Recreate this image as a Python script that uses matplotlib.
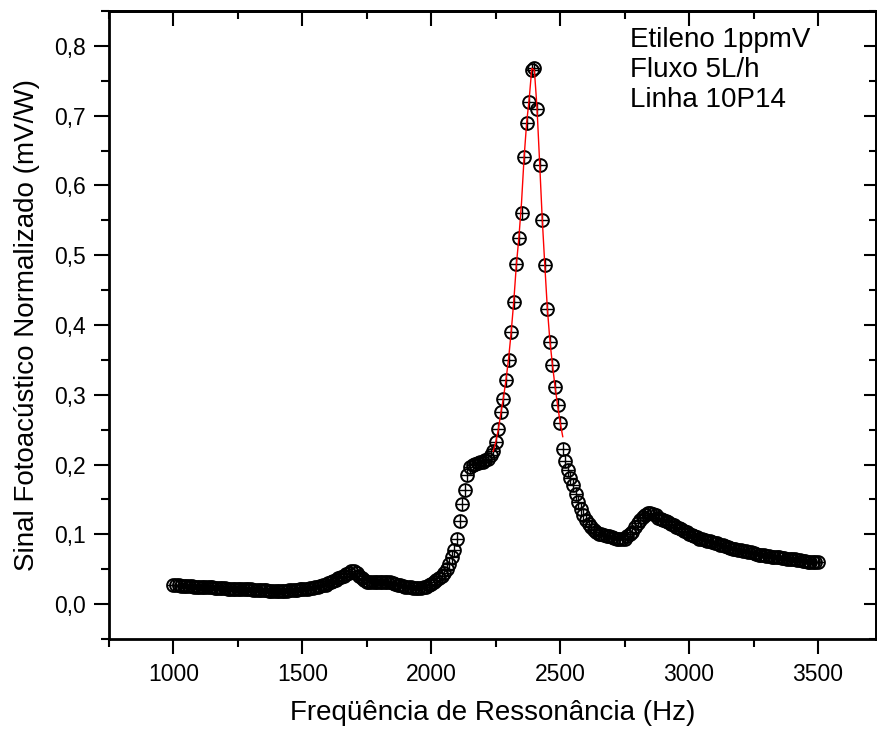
import numpy as np
import matplotlib
matplotlib.use("Agg")
import matplotlib.pyplot as plt
from matplotlib.ticker import MultipleLocator, FuncFormatter

plt.rcParams['font.family'] = ['Liberation Sans', 'DejaVu Sans']

# frequency grid of the measurement (Hz), one point every 10 Hz
freq = np.arange(1000, 3501, 10)

# normalised photoacoustic signal (mV/W)
signal = [
    # 1000 - 1090
    0.027, 0.027, 0.027, 0.026, 0.026, 0.026, 0.026, 0.026, 0.025, 0.025,
    # 1100 - 1190
    0.025, 0.025, 0.024, 0.024, 0.024, 0.024, 0.023, 0.023, 0.023, 0.023,
    # 1200 - 1290
    0.023, 0.022, 0.022, 0.022, 0.022, 0.022, 0.021, 0.021, 0.021, 0.021,
    # 1300 - 1390
    0.021, 0.020, 0.020, 0.020, 0.020, 0.020, 0.020, 0.019, 0.019, 0.019,
    # 1400 - 1490
    0.019, 0.019, 0.019, 0.019, 0.019, 0.020, 0.020, 0.020, 0.020, 0.021,
    # 1500 - 1590
    0.021, 0.022, 0.022, 0.023, 0.023, 0.024, 0.025, 0.026, 0.027, 0.028,
    # 1600 - 1690
    0.030, 0.031, 0.033, 0.035, 0.037, 0.039, 0.041, 0.043, 0.045, 0.047,
    # 1700 - 1790
    0.047, 0.045, 0.041, 0.037, 0.034, 0.032, 0.031, 0.031, 0.031, 0.032,
    # 1800 - 1890
    0.032, 0.032, 0.032, 0.031, 0.031, 0.030, 0.029, 0.028, 0.027, 0.026,
    # 1900 - 1990
    0.025, 0.024, 0.024, 0.023, 0.023, 0.023, 0.023, 0.024, 0.025, 0.027,
    # 2000 - 2090
    0.029, 0.031, 0.034, 0.037, 0.041, 0.045, 0.050, 0.058, 0.067, 0.078,
    # 2100 - 2190
    0.094, 0.119, 0.143, 0.164, 0.185, 0.196, 0.200, 0.201, 0.202, 0.203,
    # 2200 - 2290
    0.204, 0.206, 0.208, 0.213, 0.219, 0.232, 0.251, 0.276, 0.294, 0.321,
    # 2300 - 2390
    0.350, 0.390, 0.433, 0.487, 0.524, 0.560, 0.641, 0.689, 0.719, 0.765,
    # 2400 - 2490
    0.768, 0.709, 0.630, 0.550, 0.486, 0.423, 0.376, 0.343, 0.311, 0.286,
    # 2500 - 2590
    0.259, 0.222, 0.205, 0.192, 0.181, 0.171, 0.158, 0.147, 0.137, 0.128,
    # 2600 - 2690
    0.121, 0.115, 0.110, 0.106, 0.103, 0.101, 0.100, 0.099, 0.098, 0.097,
    # 2700 - 2790
    0.096, 0.095, 0.094, 0.093, 0.093, 0.094, 0.097, 0.100, 0.104, 0.110,
    # 2800 - 2890
    0.116, 0.121, 0.125, 0.128, 0.130, 0.130, 0.129, 0.127, 0.124, 0.122,
    # 2900 - 2990
    0.120, 0.119, 0.117, 0.115, 0.113, 0.111, 0.109, 0.107, 0.105, 0.103,
    # 3000 - 3090
    0.101, 0.099, 0.097, 0.096, 0.094, 0.093, 0.092, 0.091, 0.090, 0.089,
    # 3100 - 3190
    0.088, 0.087, 0.085, 0.084, 0.083, 0.082, 0.080, 0.079, 0.079, 0.078,
    # 3200 - 3290
    0.077, 0.076, 0.076, 0.075, 0.074, 0.073, 0.072, 0.071, 0.070, 0.070,
    # 3300 - 3390
    0.069, 0.069, 0.068, 0.068, 0.067, 0.067, 0.066, 0.066, 0.065, 0.065,
    # 3400 - 3490
    0.064, 0.064, 0.063, 0.063, 0.062, 0.062, 0.061, 0.061, 0.060, 0.060,
    # 3500
    0.060,
]

# red curve around the resonance peak
fit_freq = np.arange(2240, 2511, 10)
fit_signal = [
    0.219, 0.232, 0.250, 0.274, 0.296, 0.322, 0.352, 0.390, 0.434, 0.486,
    0.526, 0.575, 0.640, 0.690, 0.725, 0.768, 0.765, 0.712, 0.635, 0.555,
    0.488, 0.425, 0.378, 0.343, 0.312, 0.285, 0.260, 0.240,
]

notes = ["Etileno 1ppmV", "Fluxo 5L/h", "Linha 10P14"]

fig = plt.figure(figsize=(8.77, 7.31), dpi=100)
ax = fig.add_axes([109 / 877, 92 / 731, 767 / 877, 628 / 731])

# open circles with a cross inside (Origin style)
ax.plot(freq, signal, linestyle='none', marker='o', markersize=9.2,
        markerfacecolor='none', markeredgecolor='black', markeredgewidth=1.4)
ax.plot(freq, signal, linestyle='none', marker='+', markersize=9.2,
        markeredgecolor='black', markeredgewidth=1.0)
ax.plot(fit_freq, fit_signal, color='red', linewidth=1.0)

ax.set_xlim(750, 3725)
ax.set_ylim(-0.05, 0.85)

ax.xaxis.set_major_locator(MultipleLocator(500))
ax.xaxis.set_minor_locator(MultipleLocator(250))
ax.yaxis.set_major_locator(MultipleLocator(0.1))
ax.yaxis.set_minor_locator(MultipleLocator(0.05))
ax.set_xticks([1000, 1500, 2000, 2500, 3000, 3500])
ax.set_yticks([0.0, 0.1, 0.2, 0.3, 0.4, 0.5, 0.6, 0.7, 0.8])
ax.yaxis.set_major_formatter(FuncFormatter(lambda v, p: f"{v:.1f}".replace('.', ',')))

ax.tick_params(which='both', direction='out', top=False, right=False,
               labelsize=16.5, width=1.5)
ax.tick_params(which='major', length=11, pad=6)
ax.tick_params(which='minor', length=6)

for side in ax.spines.values():
    side.set_linewidth(2)

# top and right ticks point inwards
top = ax.secondary_xaxis('top')
top.xaxis.set_major_locator(MultipleLocator(500))
top.xaxis.set_minor_locator(MultipleLocator(250))
top.tick_params(which='both', direction='in', labeltop=False, width=1.5)
top.tick_params(which='major', length=11)
top.tick_params(which='minor', length=6)
top.spines['top'].set_linewidth(2)

right = ax.secondary_yaxis('right')
right.yaxis.set_major_locator(MultipleLocator(0.1))
right.yaxis.set_minor_locator(MultipleLocator(0.05))
right.tick_params(which='both', direction='in', labelright=False, width=1.5)
right.tick_params(which='major', length=9)
right.tick_params(which='minor', length=5)
right.spines['right'].set_linewidth(2)

ax.set_xlabel("Freqüência de Ressonância (Hz)", fontsize=20, labelpad=10)
ax.set_ylabel("Sinal Fotoacústico Normalizado (mV/W)", fontsize=20, labelpad=10)

ax.text(0.679, 0.975, "\n".join(notes), transform=ax.transAxes, fontsize=20,
        va='top', ha='left', linespacing=1.2)

fig.savefig("out.png", dpi=100)
